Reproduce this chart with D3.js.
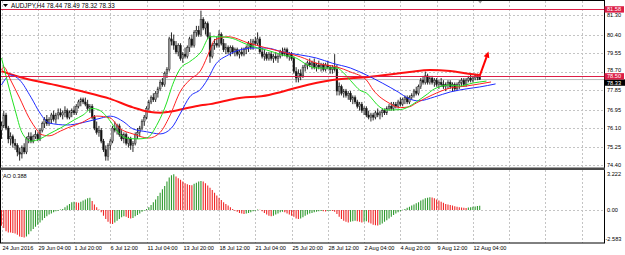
<!DOCTYPE html>
<html><head><meta charset="utf-8">
<script src="https://cdn.jsdelivr.net/npm/d3@7"></script>
<style>body{margin:0;background:#fff} svg{display:block} text{font-family:"Liberation Sans",Arial,sans-serif;}</style>
</head><body>
<svg id="c" width="625" height="255"></svg>
<script>
// ---------- DATA ----------
const symbol = "AUDJPY,H4";
const lastQuote = [78.44, 78.49, 78.32, 78.33];
const timeLabels = ["24 Jun 2016","29 Jun 04:00","1 Jul 20:00","6 Jul 12:00","11 Jul 04:00","13 Jul 20:00","18 Jul 12:00","21 Jul 04:00","25 Jul 20:00","28 Jul 12:00","2 Aug 04:00","4 Aug 20:00","9 Aug 12:00","12 Aug 04:00"];
const timeLabelBars = [0,16,32,48,64,80,96,112,128,144,160,176,192,208];
const priceTicks = [81.30, 80.40, 79.55, 78.70, 77.85, 76.95, 76.10, 75.25, 74.40];
const aoTicks = [3.222, 0.00, -2.583];
const aoTickText = ["3.222", "0.00", "-2.583"];
const levelLines = [81.58, 78.50];
const bid = 78.33;
const aoLast = "0.388";
// candles: [open, high, low, close]
const candles = [
[76.0,76.4,75.6,76.2],[76.2,76.9,76.1,76.7],[76.7,76.8,76.0,76.1],[76.1,76.2,75.4,75.6],[75.6,75.9,75.3,75.7],
[75.7,75.8,75.2,75.4],[75.4,75.6,75.1,75.3],[75.3,75.4,74.8,75.0],[75.0,75.2,74.6,74.9],[74.9,75.3,74.7,75.2],
[75.2,75.4,74.9,75.0],[75.0,75.7,74.9,75.6],[75.6,75.9,75.4,75.7],[75.7,75.9,75.4,75.5],[75.5,75.8,75.4,75.7],
[75.7,76.0,75.6,75.8],[75.8,75.9,75.5,75.6],[75.6,76.1,75.5,76.0],[76.0,76.4,75.9,76.3],[76.3,76.6,76.1,76.5],
[76.5,76.7,76.2,76.3],[76.3,76.6,76.2,76.5],[76.5,76.8,76.3,76.7],[76.7,76.9,76.4,76.5],[76.5,76.8,76.3,76.7],
[76.7,77.0,76.5,76.8],[76.8,77.0,76.6,76.7],[76.7,76.9,76.5,76.8],[76.8,77.1,76.6,76.9],[76.9,77.0,76.5,76.6],
[76.6,76.9,76.5,76.8],[76.8,77.0,76.6,76.9],[76.9,77.1,76.7,76.8],[76.8,77.2,76.7,77.1],[77.1,77.4,77.0,77.3],
[77.3,77.5,77.1,77.4],[77.4,77.5,77.2,77.3],[77.3,77.5,77.1,77.2],[77.2,77.4,76.9,77.0],[77.0,77.2,76.8,77.1],
[77.1,77.2,76.5,76.6],[76.6,76.7,76.0,76.1],[76.1,76.4,75.8,75.9],[75.9,76.2,75.7,76.0],[76.0,76.1,75.4,75.5],
[75.5,75.6,75.0,75.1],[75.1,75.3,74.6,74.8],[74.8,75.4,74.6,75.3],[75.3,75.6,75.1,75.5],[75.5,76.2,75.4,76.1],
[76.1,76.4,75.9,76.0],[76.0,76.3,75.8,76.2],[76.2,76.3,75.7,75.8],[75.8,76.0,75.5,75.6],[75.6,75.9,75.4,75.8],
[75.8,75.9,75.3,75.4],[75.4,75.7,75.2,75.6],[75.6,75.7,75.1,75.3],[75.3,75.5,75.0,75.4],[75.4,75.9,75.3,75.8],
[75.8,76.1,75.6,75.9],[75.9,76.2,75.7,76.1],[76.1,76.5,76.0,76.4],[76.4,76.7,76.2,76.6],[76.6,77.1,76.5,77.0],
[77.0,77.4,76.9,77.3],[77.3,77.6,77.2,77.5],[77.5,77.7,77.3,77.4],[77.4,77.8,77.3,77.7],[77.7,78.0,77.5,77.9],
[77.9,78.3,77.8,78.2],[78.2,78.4,78.0,78.1],[78.1,78.7,78.0,78.6],[78.6,78.9,78.4,78.8],[78.8,80.3,78.7,80.2],
[80.2,80.5,79.9,80.1],[80.1,80.4,79.7,79.9],[79.9,80.1,79.5,79.6],[79.6,80.0,79.4,79.9],[79.9,80.0,79.2,79.3],
[79.3,79.6,79.1,79.5],[79.5,79.8,79.3,79.4],[79.4,79.9,79.3,79.8],[79.8,80.3,79.6,80.2],[80.2,80.4,79.8,79.9],
[79.9,80.6,79.8,80.5],[80.5,80.8,80.3,80.6],[80.6,80.8,80.3,80.4],[80.4,81.5,80.3,81.1],[81.1,81.2,80.6,80.7],
[80.7,81.0,80.4,80.9],[80.9,81.0,80.2,80.3],[80.3,80.5,79.1,79.4],[79.4,80.0,79.3,79.9],[79.9,80.2,79.7,80.0],
[80.0,80.3,79.8,79.9],[79.9,80.6,79.8,80.4],[80.4,80.5,79.9,80.0],[80.0,80.2,79.6,79.7],[79.7,80.0,79.5,79.8],
[79.8,79.9,79.5,79.6],[79.6,79.9,79.4,79.8],[79.8,79.9,79.5,79.6],[79.6,79.8,79.4,79.7],[79.7,79.8,79.4,79.5],
[79.5,79.7,79.3,79.6],[79.6,79.8,79.4,79.5],[79.5,79.8,79.4,79.7],[79.7,79.9,79.5,79.8],[79.8,80.1,79.6,80.0],
[80.0,80.2,79.7,79.8],[79.8,80.2,79.7,80.1],[80.1,80.3,79.9,80.0],[80.0,80.5,79.9,80.2],[80.2,80.3,79.5,79.6],
[79.6,79.8,79.3,79.4],[79.4,79.7,79.2,79.5],[79.5,79.6,79.2,79.3],[79.3,79.6,79.2,79.5],[79.5,79.6,79.2,79.3],
[79.3,79.5,79.1,79.4],[79.4,79.6,79.2,79.3],[79.3,79.5,79.1,79.4],[79.4,79.7,79.3,79.6],[79.6,79.8,79.4,79.5],
[79.5,79.8,79.4,79.7],[79.7,79.8,79.3,79.4],[79.4,79.6,79.2,79.5],[79.5,79.6,79.2,79.3],[79.3,79.4,78.6,78.7],
[78.7,78.9,78.2,78.4],[78.4,78.8,78.2,78.6],[78.6,78.8,78.3,78.5],[78.5,79.0,78.4,78.9],[78.9,79.1,78.7,79.0],
[79.0,79.2,78.8,79.1],[79.1,79.3,78.9,79.0],[79.0,79.2,78.8,79.1],[79.1,79.3,78.8,78.9],[78.9,79.1,78.7,79.0],
[79.0,79.2,78.8,78.9],[78.9,79.1,78.7,79.0],[79.0,79.1,78.7,78.8],[78.8,79.1,78.7,79.0],[79.0,79.2,78.8,78.9],
[78.9,79.0,78.6,78.8],[78.8,79.0,78.6,78.9],[78.9,79.5,78.7,78.8],[78.8,79.0,77.6,77.8],[77.8,78.2,77.6,78.0],
[78.0,78.1,77.6,77.7],[77.7,77.9,77.5,77.8],[77.8,77.9,77.5,77.6],[77.6,77.8,77.4,77.7],[77.7,77.8,77.3,77.4],
[77.4,77.6,77.2,77.5],[77.5,77.6,77.2,77.3],[77.3,77.4,77.0,77.1],[77.1,77.3,76.9,77.2],[77.2,77.3,76.8,76.9],
[76.9,77.1,76.7,77.0],[77.0,77.1,76.6,76.7],[76.7,76.9,76.5,76.6],[76.6,76.8,76.4,76.7],[76.7,76.8,76.45,76.6],
[76.6,76.9,76.5,76.8],[76.8,77.0,76.6,76.7],[76.7,76.9,76.5,76.8],[76.8,77.0,76.6,76.9],[76.9,77.0,76.7,76.8],
[76.8,77.1,76.7,77.0],[77.0,77.2,76.9,77.1],[77.1,77.3,76.9,77.0],[77.0,77.3,76.9,77.2],[77.2,77.3,77.0,77.1],
[77.1,77.4,77.0,77.3],[77.3,77.5,77.1,77.2],[77.2,77.5,77.1,77.4],[77.4,77.6,77.2,77.5],[77.5,77.6,77.2,77.3],
[77.3,77.6,77.2,77.5],[77.5,77.7,77.4,77.6],[77.6,77.9,77.5,77.8],[77.8,78.0,77.6,77.7],[77.7,78.1,77.6,78.0],
[78.0,78.4,77.9,78.3],[78.3,78.5,78.1,78.2],[78.2,78.7,78.1,78.5],[78.5,78.6,78.1,78.2],[78.2,78.5,78.1,78.4],
[78.4,78.5,78.1,78.2],[78.2,78.4,78.0,78.3],[78.3,78.4,78.0,78.1],[78.1,78.3,77.9,78.2],[78.2,78.4,78.0,78.1],
[78.1,78.3,77.9,78.0],[78.0,78.2,77.8,78.1],[78.1,78.3,77.9,78.2],[78.2,78.3,77.9,78.0],[78.0,78.2,77.8,78.1],
[78.1,78.2,77.8,77.9],[77.9,78.2,77.8,78.1],[78.1,78.3,77.9,78.2],[78.2,78.4,78.0,78.3],[78.3,78.4,78.0,78.1],
[78.1,78.4,78.0,78.3],[78.3,78.5,78.2,78.4],[78.4,78.6,78.2,78.3],[78.3,78.5,78.2,78.4],[78.4,78.6,78.3,78.5],
[78.5,78.6,78.3,78.44],[78.44,78.49,78.32,78.33]
];
// Awesome Oscillator, one value per bar
const ao = [
-1.4,-1.6,-1.9,-2.0,-2.0,-2.05,-2.1,-2.2,-2.35,-2.4,
-2.45,-2.35,-2.15,-1.9,-1.7,-1.5,-1.3,-1.1,-0.9,-0.7,
-0.55,-0.4,-0.3,-0.2,-0.1,-0.05,0.05,0.1,0.25,0.4,
0.55,0.7,0.75,0.7,0.65,0.75,0.85,0.95,1.05,1.1,
0.8,0.5,0.25,0.05,-0.2,-0.5,-0.8,-1.05,-1.2,-1.25,
-1.1,-0.95,-0.8,-0.65,-0.55,-0.6,-0.7,-0.75,-0.7,-0.55,
-0.45,-0.3,-0.15,-0.05,0.1,0.25,0.45,0.7,0.95,1.25,
1.55,1.85,2.15,2.55,2.9,3.1,3.2,3.0,2.85,2.7,
2.55,2.4,2.3,2.25,2.22,2.35,2.45,2.55,2.6,2.55,
2.4,2.2,2.0,1.8,1.55,1.3,1.1,0.9,0.7,0.55,
0.4,0.25,0.1,-0.05,-0.15,-0.25,-0.3,-0.35,-0.3,-0.25,
-0.2,-0.1,-0.05,0.05,0.03,-0.1,-0.25,-0.4,-0.5,-0.55,
-0.5,-0.4,-0.3,-0.2,-0.15,-0.2,-0.3,-0.4,-0.5,-0.6,
-0.75,-0.8,-0.75,-0.65,-0.5,-0.4,-0.3,-0.25,-0.2,-0.15,
-0.1,-0.08,-0.1,-0.12,-0.08,-0.05,-0.08,-0.15,-0.35,-0.6,
-0.8,-0.95,-1.05,-1.1,-1.05,-1.0,-0.95,-1.0,-1.05,-1.1,
-1.05,-1.0,-1.1,-1.2,-1.3,-1.35,-1.38,-1.3,-1.2,-1.05,
-0.9,-0.75,-0.6,-0.45,-0.3,-0.2,-0.1,0.02,0.1,0.2,
0.3,0.4,0.5,0.6,0.7,0.85,0.95,1.05,1.1,1.15,
1.12,1.05,0.95,0.85,0.75,0.65,0.55,0.5,0.45,0.4,
0.35,0.3,0.25,0.22,0.2,0.18,0.22,0.26,0.3,0.33,
0.36,0.388
];
// Alligator lines and slow MA, read as [bar, price]
const jaw = [[0,78.08],[4,78.54],[8,78.31],[13,77.52],[17,76.79],[21,76.33],[29,76.24],[35,76.33],[44,76.56],[48,76.65],[54,76.38],[58,76.06],[64,75.93],[70,75.83],[75,76.1],[79,76.79],[83,77.53],[88,77.9],[92,78.54],[94,78.95],[100,79.46],[105,79.69],[111,79.78],[117,79.78],[124,79.6],[132,79.46],[139,79.32],[146,79.08],[154,78.86],[161,78.54],[168,78.17],[175,77.76],[180,77.44],[184,77.35],[191,77.53],[198,77.76],[205,77.9],[211,77.99],[218,78.13]];
const teeth = [[0,78.77],[1,78.91],[4,78.31],[8,77.48],[12,76.6],[16,75.96],[17,75.83],[21,75.74],[26,75.96],[29,76.1],[35,76.33],[42,76.65],[48,76.56],[52,76.1],[58,75.83],[65,75.64],[70,75.9],[74,76.6],[79,77.8],[83,78.31],[88,78.77],[92,79.69],[94,80.15],[100,80.3],[109,80.01],[117,79.78],[124,79.6],[132,79.37],[139,79.08],[148,78.91],[154,78.68],[161,78.31],[164,77.85],[171,77.25],[176,77.04],[180,77.08],[183,77.25],[190,77.62],[198,77.94],[205,78.03],[211,78.13],[216,78.22]];
const lips = [[0,79.32],[1,78.91],[3,78.08],[6,76.93],[9,75.9],[13,75.5],[17,75.6],[21,75.83],[26,76.1],[32,76.47],[36,76.7],[40,77.0],[43,76.93],[48,76.42],[51,75.96],[55,75.64],[60,75.6],[64,75.64],[69,76.33],[73,77.3],[75,77.95],[79,78.85],[83,79.15],[88,79.6],[92,80.3],[96,80.3],[102,80.22],[107,80.0],[113,79.78],[117,79.69],[124,79.46],[130,79.32],[135,79.0],[139,78.86],[144,78.86],[148,78.86],[151,78.63],[155,78.17],[158,77.85],[161,77.71],[167,77.06],[170,76.93],[176,76.95],[180,77.1],[183,77.3],[188,77.67],[191,77.9],[198,78.08],[202,78.03],[208,78.17],[214,78.26]];
const slowMA = [[0,78.72],[8,78.45],[22,78.12],[35,77.8],[48,77.44],[58,77.05],[65,76.85],[70,76.8],[74,76.85],[79,76.95],[88,77.15],[92,77.2],[103,77.45],[118,77.62],[123,77.75],[131,77.98],[146,78.31],[162,78.45],[180,78.68],[189,78.77],[198,78.72],[206,78.6],[211,78.54]];
const arrow = [[211,78.50],[214.9,79.62]];

// ---------- DRAW ----------
const svg = d3.select("#c");
const R = 604.5;               // right frame
const mainTop = 1, mainBot = 167.5, aoTop = 170, aoBot = 243;
const x = d3.scaleLinear().domain([0,208]).range([1.5,472.9]);
const y = d3.scaleLinear().domain([74.40,81.30]).range([165,15]);
const ya = d3.scaleLinear().domain([-2.583,3.222]).range([239,174]);
const FS = 5.6;

const defs = svg.append("defs");
defs.append("clipPath").attr("id","cm").append("rect").attr("x",1).attr("y",mainTop).attr("width",R-1).attr("height",mainBot-mainTop);
defs.append("clipPath").attr("id","ca").append("rect").attr("x",1).attr("y",aoTop).attr("width",R-1).attr("height",aoBot-aoTop);

const grid = svg.append("g").attr("stroke","#c4c4c4").attr("stroke-width",1).attr("stroke-dasharray","2,2");
const gridBars = d3.range(0,270,16).filter(b => x(b) < R-2);
gridBars.forEach(b => {
  const gx = Math.round(x(b)) + 0.5;
  grid.append("line").attr("x1",gx).attr("x2",gx).attr("y1",mainTop).attr("y2",mainBot);
  grid.append("line").attr("x1",gx).attr("x2",gx).attr("y1",aoTop).attr("y2",aoBot);
});
priceTicks.forEach(t => {
  const gy = Math.round(y(t)) + 0.5;
  grid.append("line").attr("x1",1).attr("x2",R).attr("y1",gy).attr("y2",gy);
});
grid.append("line").attr("x1",1).attr("x2",R).attr("y1",Math.round(ya(0))+0.5).attr("y2",Math.round(ya(0))+0.5);

// main window
const gm = svg.append("g").attr("clip-path","url(#cm)");
gm.append("line").attr("x1",1).attr("x2",R).attr("y1",y(bid)).attr("y2",y(bid)).attr("stroke","#bdbdbd").attr("stroke-width",1);

const cg = gm.append("g");
candles.forEach((c,i) => {
  const cx = x(i);
  cg.append("line").attr("x1",cx).attr("x2",cx).attr("y1",y(c[1])).attr("y2",y(c[2])).attr("stroke","#111").attr("stroke-width",0.9);
  const top = y(Math.max(c[0],c[3])), bot = y(Math.min(c[0],c[3]));
  const up = c[3] >= c[0];
  cg.append("rect").attr("x",cx-0.9).attr("y",top).attr("width",1.8).attr("height",Math.max(0.8,bot-top))
    .attr("fill", up ? "#9a9a9a" : "#111").attr("stroke","#222").attr("stroke-width",0.4);
});

const line = d3.line().x(d => x(d[0])).y(d => y(d[1])).curve(d3.curveMonotoneX);
gm.append("path").attr("d",line(slowMA)).attr("fill","none").attr("stroke","#ff1010").attr("stroke-width",2);
gm.append("path").attr("d",line(jaw)).attr("fill","none").attr("stroke","#1f2cff").attr("stroke-width",1);
gm.append("path").attr("d",line(teeth)).attr("fill","none").attr("stroke","#ff2020").attr("stroke-width",1);
gm.append("path").attr("d",line(lips)).attr("fill","none").attr("stroke","#22e022").attr("stroke-width",1);

levelLines.forEach(v => {
  gm.append("line").attr("x1",1).attr("x2",R).attr("y1",Math.round(y(v))+0.5).attr("y2",Math.round(y(v))+0.5).attr("stroke","#dc1e46").attr("stroke-width",1);
});

{
  const x1 = x(arrow[0][0]), y1 = y(arrow[0][1]), x2 = x(arrow[1][0]), y2 = y(arrow[1][1]);
  const ang = Math.atan2(y2-y1, x2-x1), L = 6, Wd = 3;
  const bx = x2 - L*Math.cos(ang), by = y2 - L*Math.sin(ang);
  gm.append("line").attr("x1",x1).attr("y1",y1).attr("x2",bx).attr("y2",by).attr("stroke","#ff0000").attr("stroke-width",2);
  const px = -Math.sin(ang), py = Math.cos(ang);
  gm.append("path").attr("d",`M${x2},${y2}L${bx+px*Wd},${by+py*Wd}L${bx-px*Wd},${by-py*Wd}Z`).attr("fill","#ff0000");
}

// AO window
const ga = svg.append("g").attr("clip-path","url(#ca)");
ao.forEach((v,i) => {
  const up = i === 0 ? false : v > ao[i-1];
  ga.append("line").attr("x1",x(i)).attr("x2",x(i)).attr("y1",ya(0)).attr("y2",ya(v))
    .attr("stroke", up ? "#2f9a2f" : "#f02828").attr("stroke-width",1.1);
});

// frames
svg.append("rect").attr("x",0.5).attr("y",0.5).attr("width",R-0.5).attr("height",aoBot-0.5).attr("fill","none").attr("stroke","#000").attr("stroke-width",1);
svg.append("rect").attr("x",0).attr("y",mainBot).attr("width",R+0.5).attr("height",2.5).attr("fill","#4a4a4a");

svg.append("path").attr("d",`M${x(211)-1.5},1L${x(211)+2.5},1L${x(211)+0.5},3.5Z`).attr("fill","#9a9a9a");

// header
svg.append("path").attr("d","M3,4L8,4L5.5,7Z").attr("fill","#000");
svg.append("text").attr("x",11).attr("y",8.3).attr("font-size",6.3).attr("fill","#000")
  .text(symbol + " " + lastQuote.map(v => v.toFixed(2)).join(" "));
svg.append("text").attr("x",3).attr("y",177.5).attr("font-size",FS).attr("fill","#000").text("AO " + aoLast);

// price axis labels (the one just above the level box is nudged up so texts do not collide)
priceTicks.forEach(t => {
  const near = Math.abs(t - levelLines[1]) < 0.3;
  svg.append("text").attr("x",607).attr("y",y(t) + (near ? 0.8 : 2)).attr("font-size",FS).attr("fill","#000").text(t.toFixed(2));
});
{
  const by = y(bid) + 2.8;
  svg.append("rect").attr("x",R).attr("y",by-3).attr("width",625-R).attr("height",6.4).attr("fill","#000");
  svg.append("text").attr("x",607).attr("y",by+2.3).attr("font-size",FS).attr("fill","#fff").text(bid.toFixed(2));
}
levelLines.forEach(v => {
  const ly = y(v) + 0.4;
  svg.append("rect").attr("x",R).attr("y",ly-3.1).attr("width",625-R-1).attr("height",6.4).attr("fill","#dc1e46");
  svg.append("text").attr("x",607).attr("y",ly+2.1).attr("font-size",FS).attr("fill","#fff").text(v.toFixed(2));
});
aoTicks.forEach((t,k) => {
  svg.append("text").attr("x",t < 0 ? 605.5 : 607).attr("y",ya(t)+2).attr("font-size",FS).attr("fill","#000").text(aoTickText[k]);
});

// time labels
timeLabels.forEach((s,k) => {
  svg.append("text").attr("x",Math.round(x(timeLabelBars[k]))+0.5).attr("y",249.8).attr("font-size",FS).attr("fill","#000").text(s);
});
</script>
</body></html>
